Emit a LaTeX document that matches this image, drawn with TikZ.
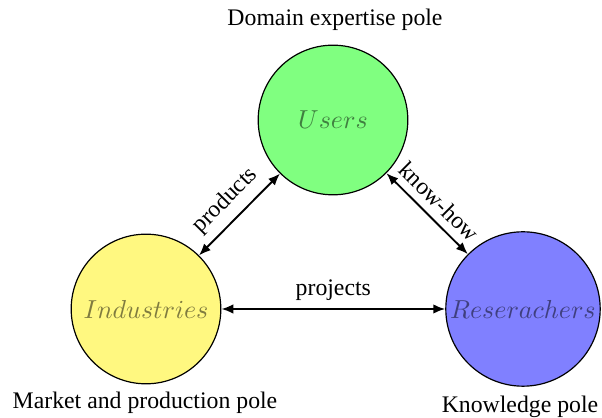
\documentclass[tikz,border=0pt]{standalone}
\usepackage{fontspec}
\setmainfont{Liberation Serif}
\usetikzlibrary{arrows.meta}
\begin{document}
\begin{tikzpicture}[x=0.421pt,y=-0.421pt,
  pole/.style={circle,draw=black,line width=0.5pt,minimum size=63pt,inner sep=0pt,text opacity=0.5,font=\fontsize{10.6}{13}\selectfont},
  conn/.style={{Latex[length=5pt,width=4pt]}-{Latex[length=5pt,width=4pt]},line width=0.8pt},
  polelabel/.style={inner sep=0pt}]
\useasboundingbox (0,0) rectangle (602,418);
\node[pole,fill=green!50] (u) at (333,120) {$Users$};
\node[pole,fill=yellow!50] (i) at (146,309) {$Industries$};
\node[pole,fill=blue!50,minimum size=65pt] (r) at (523,309) {$Reserachers$};
\node[polelabel] (ul) at (335,20) {Domain expertise pole};
\node[polelabel] (il) at (145,403) {Market and production pole};
\node[polelabel] (rl) at (520,407) {Knowledge pole};
\draw[conn] (i) -- node[sloped,above] (pl) {products} (u);
\draw[conn] (u) -- node[sloped,above] (kl) {know-how} (r);
\draw[conn] (i) -- node[above] (jl) {projects} (r);
\end{tikzpicture}
\end{document}
